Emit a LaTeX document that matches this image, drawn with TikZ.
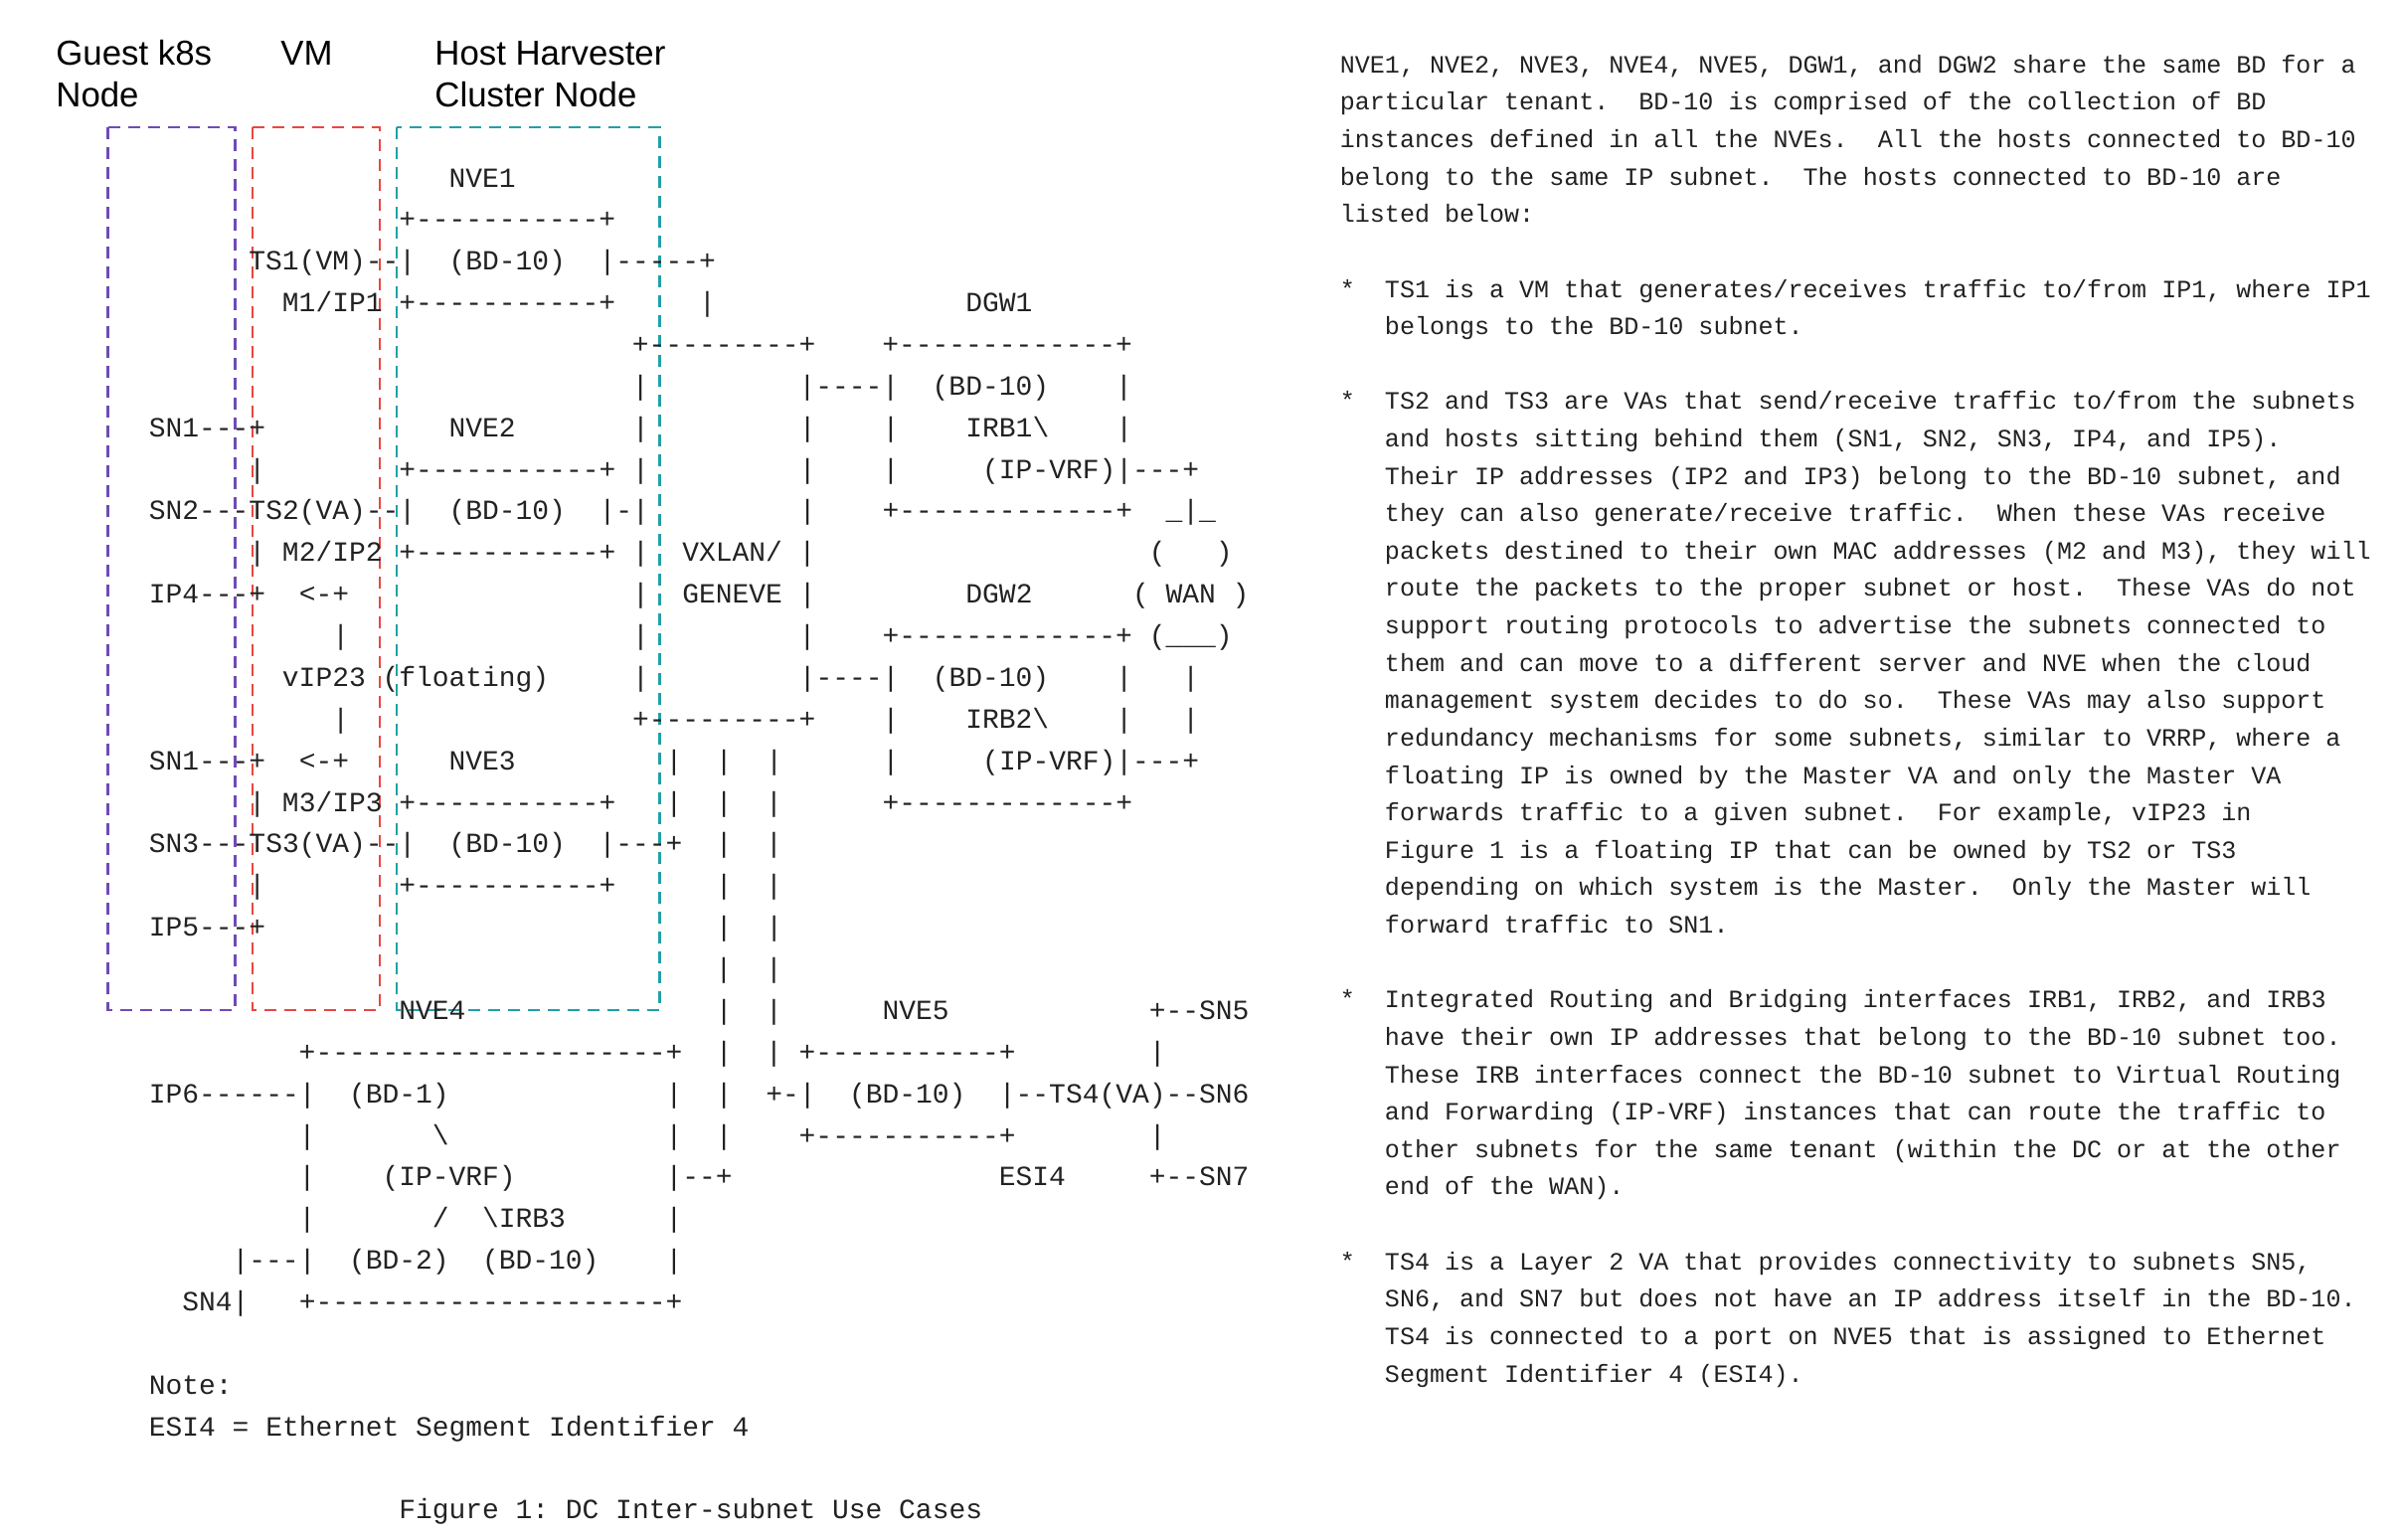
\documentclass[tikz,border=0pt]{standalone}
\usepackage{fontspec}
\setmonofont{Liberation Mono}
\newfontfamily\headfont{Liberation Sans}
\usepackage{xcolor}
\definecolor{ink}{HTML}{222222}
\definecolor{k8spurple}{HTML}{6F4BB5}
\definecolor{vmred}{HTML}{E8473F}
\definecolor{hostteal}{HTML}{21A0A8}

\begin{document}
\frenchspacing
\begin{tikzpicture}[x=0.5pt,y=-0.5pt,
        asc/.style={font=\ttfamily\fontsize{13.97pt}{16pt}\selectfont,text=ink,inner sep=0pt,anchor=base west},
        prose/.style={font=\ttfamily\fontsize{12.52pt}{15pt}\selectfont,text=ink,inner sep=0pt,anchor=base west},
        head/.style={font=\headfont\fontsize{17.4pt}{20pt}\selectfont,text=black,inner sep=0pt,anchor=base west},
        zone/.style={dash pattern=on 6pt off 4pt,line width=1.3pt}]
            \path[use as bounding box,fill=white] (0,0) rectangle (2414,1548);

            % column headings
            \node [head] (guest) at (56,65.4) {Guest k8s};
            \node [head] (guestb) at (56,107.2) {Node};
            \node [head] (vm) at (282,65.4) {VM};
            \node [head] (host) at (437,65.4) {Host Harvester};
            \node [head] (hostb) at (437,107.2) {Cluster Node};

            % dashed zones
            \draw [zone,k8spurple] (108.5,128) rectangle (236.5,1016);
            \draw [zone,vmred] (254,128) rectangle (382,1016);
            \draw [zone,hostteal] (399,128) rectangle (663.5,1016);

            % the ascii figure, (column,row)
            \begin{scope}[shift={(149.5,188)},x=8.38pt,y=-20.935pt]
            \node [asc] (fig0) at (18,0) {NVE1};
            \node [asc] (fig1) at (15,1) {+-----------+};
            \node [asc] (fig2) at (6,2) {TS1(VM)--|~~(BD-10)~~|-----+};
            \node [asc] (fig3) at (8,3) {M1/IP1~+-----------+~~~~~|~~~~~~~~~~~~~~~DGW1};
            \node [asc] (fig4) at (29,4) {+---------+~~~~+-------------+};
            \node [asc] (fig5) at (29,5) {|~~~~~~~~~|----|~~(BD-10)~~~~|};
            \node [asc] (fig6) at (0,6) {SN1---+~~~~~~~~~~~NVE2~~~~~~~|~~~~~~~~~|~~~~|~~~~IRB1\textbackslash{}~~~~|};
            \node [asc] (fig7) at (6,7) {|~~~~~~~~+-----------+~|~~~~~~~~~|~~~~|~~~~~(IP-VRF)|---+};
            \node [asc] (fig8) at (0,8) {SN2---TS2(VA)--|~~(BD-10)~~|-|~~~~~~~~~|~~~~+-------------+~~\_|\_};
            \node [asc] (fig9) at (6,9) {|~M2/IP2~+-----------+~|~~VXLAN/~|~~~~~~~~~~~~~~~~~~~~(~~~)};
            \node [asc] (fig10) at (0,10) {IP4---+~~<-+~~~~~~~~~~~~~~~~~|~~GENEVE~|~~~~~~~~~DGW2~~~~~~(~WAN~)};
            \node [asc] (fig11) at (11,11) {|~~~~~~~~~~~~~~~~~|~~~~~~~~~|~~~~+-------------+~(\_\_\_)};
            \node [asc] (fig12) at (8,12) {vIP23~(floating)~~~~~|~~~~~~~~~|----|~~(BD-10)~~~~|~~~|};
            \node [asc] (fig13) at (11,13) {|~~~~~~~~~~~~~~~~~+---------+~~~~|~~~~IRB2\textbackslash{}~~~~|~~~|};
            \node [asc] (fig14) at (0,14) {SN1---+~~<-+~~~~~~NVE3~~~~~~~~~|~~|~~|~~~~~~|~~~~~(IP-VRF)|---+};
            \node [asc] (fig15) at (6,15) {|~M3/IP3~+-----------+~~~|~~|~~|~~~~~~+-------------+};
            \node [asc] (fig16) at (0,16) {SN3---TS3(VA)--|~~(BD-10)~~|---+~~|~~|};
            \node [asc] (fig17) at (6,17) {|~~~~~~~~+-----------+~~~~~~|~~|};
            \node [asc] (fig18) at (0,18) {IP5---+~~~~~~~~~~~~~~~~~~~~~~~~~~~|~~|};
            \node [asc] (fig19) at (34,19) {|~~|};
            \node [asc] (fig20) at (15,20) {NVE4~~~~~~~~~~~~~~~|~~|~~~~~~NVE5~~~~~~~~~~~~+--SN5};
            \node [asc] (fig21) at (9,21) {+---------------------+~~|~~|~+-----------+~~~~~~~~|};
            \node [asc] (fig22) at (0,22) {IP6------|~~(BD-1)~~~~~~~~~~~~~|~~|~~+-|~~(BD-10)~~|--TS4(VA)--SN6};
            \node [asc] (fig23) at (9,23) {|~~~~~~~\textbackslash{}~~~~~~~~~~~~~|~~|~~~~+-----------+~~~~~~~~|};
            \node [asc] (fig24) at (9,24) {|~~~~(IP-VRF)~~~~~~~~~|--+~~~~~~~~~~~~~~~~ESI4~~~~~+--SN7};
            \node [asc] (fig25) at (9,25) {|~~~~~~~/~~\textbackslash{}IRB3~~~~~~|};
            \node [asc] (fig26) at (5,26) {|---|~~(BD-2)~~(BD-10)~~~~|};
            \node [asc] (fig27) at (2,27) {SN4|~~~+---------------------+};
            \node [asc] (note) at (0,29) {Note:};
            \node [asc] (esi) at (0,30) {ESI4 = Ethernet Segment Identifier 4};
            \node [asc] (caption) at (15,32) {Figure 1: DC Inter-subnet Use Cases};
            \end{scope}

            % the text beside it, (column,line)
            \begin{scope}[shift={(1347.5,73.3)},x=7.51pt,y=-18.81pt]
            \node [prose] (txt0) at (0,0) {NVE1, NVE2, NVE3, NVE4, NVE5, DGW1, and DGW2 share the same BD for a};
            \node [prose] (txt1) at (0,1) {particular tenant.~~BD-10 is comprised of the collection of BD};
            \node [prose] (txt2) at (0,2) {instances defined in all the NVEs.~~All the hosts connected to BD-10};
            \node [prose] (txt3) at (0,3) {belong to the same IP subnet.~~The hosts connected to BD-10 are};
            \node [prose] (txt4) at (0,4) {listed below:};
            \node [prose] (txt6) at (0,6) {*~~TS1 is a VM that generates/receives traffic to/from IP1, where IP1};
            \node [prose] (txt7) at (3,7) {belongs to the BD-10 subnet.};
            \node [prose] (txt9) at (0,9) {*~~TS2 and TS3 are VAs that send/receive traffic to/from the subnets};
            \node [prose] (txt10) at (3,10) {and hosts sitting behind them (SN1, SN2, SN3, IP4, and IP5).};
            \node [prose] (txt11) at (3,11) {Their IP addresses (IP2 and IP3) belong to the BD-10 subnet, and};
            \node [prose] (txt12) at (3,12) {they can also generate/receive traffic.~~When these VAs receive};
            \node [prose] (txt13) at (3,13) {packets destined to their own MAC addresses (M2 and M3), they will};
            \node [prose] (txt14) at (3,14) {route the packets to the proper subnet or host.~~These VAs do not};
            \node [prose] (txt15) at (3,15) {support routing protocols to advertise the subnets connected to};
            \node [prose] (txt16) at (3,16) {them and can move to a different server and NVE when the cloud};
            \node [prose] (txt17) at (3,17) {management system decides to do so.~~These VAs may also support};
            \node [prose] (txt18) at (3,18) {redundancy mechanisms for some subnets, similar to VRRP, where a};
            \node [prose] (txt19) at (3,19) {floating IP is owned by the Master VA and only the Master VA};
            \node [prose] (txt20) at (3,20) {forwards traffic to a given subnet.~~For example, vIP23 in};
            \node [prose] (txt21) at (3,21) {Figure 1 is a floating IP that can be owned by TS2 or TS3};
            \node [prose] (txt22) at (3,22) {depending on which system is the Master.~~Only the Master will};
            \node [prose] (txt23) at (3,23) {forward traffic to SN1.};
            \node [prose] (txt25) at (0,25) {*~~Integrated Routing and Bridging interfaces IRB1, IRB2, and IRB3};
            \node [prose] (txt26) at (3,26) {have their own IP addresses that belong to the BD-10 subnet too.};
            \node [prose] (txt27) at (3,27) {These IRB interfaces connect the BD-10 subnet to Virtual Routing};
            \node [prose] (txt28) at (3,28) {and Forwarding (IP-VRF) instances that can route the traffic to};
            \node [prose] (txt29) at (3,29) {other subnets for the same tenant (within the DC or at the other};
            \node [prose] (txt30) at (3,30) {end of the WAN).};
            \node [prose] (txt32) at (0,32) {*~~TS4 is a Layer 2 VA that provides connectivity to subnets SN5,};
            \node [prose] (txt33) at (3,33) {SN6, and SN7 but does not have an IP address itself in the BD-10.};
            \node [prose] (txt34) at (3,34) {TS4 is connected to a port on NVE5 that is assigned to Ethernet};
            \node [prose] (txt35) at (3,35) {Segment Identifier 4 (ESI4).};
            \end{scope}
        \end{tikzpicture}
\end{document}
